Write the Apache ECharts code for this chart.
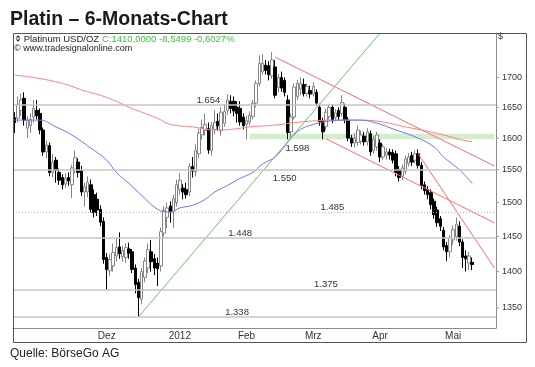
<!DOCTYPE html>
<html><head><meta charset="utf-8">
<script src="https://cdn.jsdelivr.net/npm/echarts@6/dist/echarts.min.js"></script>
<style>html,body{margin:0;padding:0;background:#fff}#c{width:535px;height:367px}</style>
</head><body><div id="c"></div>
<script>
// ---------- data ----------
const categories = [];
for (let d = new Date(Date.UTC(2011, 10, 4)); categories.length < 152; d.setUTCDate(d.getUTCDate() + 1)) {
  const w = d.getUTCDay();
  if (w !== 0 && w !== 6) categories.push(d.toISOString().slice(0, 10));
}
const monthTickDates = ['2011-12-01','2012-01-02','2012-02-01','2012-03-01','2012-04-02','2012-05-01'];
const monthLabelDates = ['2011-12-15','2012-01-17','2012-02-15','2012-03-15','2012-04-13','2012-05-16'];
const monthLabelTexts = ['Dez','2012','Feb','Mrz','Apr','Mai'];

const opens = [1633,1632,1645,1665,1616,1620,1634,1645,1640,1613, 1578,1588,1546,1565,1546,1538,1528,1538,1527,1551,
  1562,1549,1516,1516,1527,1512,1505,1490,1472,1420, 1401,1408,1422,1435,1421,1420,1432,1428,1405,1385,
  1362,1392,1405,1428,1418,1412,1408,1455,1478,1495, 1487,1500,1520,1522,1520,1516,1555,1547,1575,1605,
  1612,1615,1580,1614,1627,1612,1624,1645,1660,1660, 1650,1648,1634,1622,1626,1635,1657,1690,1710,1721,
  1720,1703,1718,1683,1700,1695,1662,1610,1634,1668, 1680,1688,1673,1678,1672,1675,1650,1628,1619,1635,
  1650,1633,1645,1640,1650,1629,1600,1592,1593,1595, 1603,1594,1607,1580,1586,1592,1570,1573,1578,1577,
  1575,1550,1540,1548,1560,1572,1565,1575,1557,1527, 1520,1515,1502,1489,1476,1459,1437,1428,1445,1450,
  1465,1442,1422,1412,1413];
const closes = [1625,1655,1662,1629,1629,1630,1648,1636,1613,1578, 1589,1546,1562,1549,1534,1527,1537,1533,1553,1569,
  1546,1516,1524,1531,1490,1485,1489,1471,1417,1403, 1417,1427,1434,1425,1430,1434,1426,1403,1382,1364,
  1400,1415,1431,1414,1405,1404,1457,1488,1492,1486, 1506,1527,1534,1516,1512,1555,1548,1580,1608,1617,
  1622,1581,1620,1625,1620,1642,1643,1662,1648,1644, 1640,1626,1620,1628,1637,1657,1690,1724,1724,1712,
  1705,1730,1670,1700,1682,1675,1609,1634,1684,1690, 1690,1673,1685,1672,1685,1657,1626,1610,1642,1650,
  1629,1641,1635,1658,1629,1600,1592,1600,1613,1605, 1594,1610,1578,1598,1605,1570,1586,1578,1573,1565,
  1546,1538,1553,1567,1570,1562,1575,1557,1526,1518, 1512,1497,1482,1470,1465,1435,1428,1448,1460,1468,
  1442,1420,1418,1422,1410];
const lows = [1608,1625,1636,1620,1600,1608,1625,1630,1606,1572, 1568,1540,1538,1530,1527,1520,1522,1525,1507,1545,
  1538,1510,1494,1508,1485,1478,1480,1465,1411,1375, 1394,1400,1414,1418,1414,1412,1418,1398,1370,1338,
  1355,1385,1398,1400,1395,1380,1400,1450,1462,1470, 1462,1494,1512,1505,1506,1510,1538,1540,1568,1598,
  1604,1575,1572,1606,1612,1604,1618,1638,1640,1635, 1625,1620,1614,1598,1620,1630,1650,1685,1705,1705,
  1695,1698,1665,1675,1676,1668,1598,1598,1630,1662, 1670,1668,1668,1665,1668,1652,1620,1598,1612,1630,
  1624,1627,1628,1635,1624,1595,1586,1585,1588,1590, 1588,1588,1572,1575,1580,1562,1565,1566,1566,1560,
  1540,1532,1534,1543,1555,1556,1560,1552,1520,1512, 1505,1490,1476,1464,1458,1430,1415,1420,1438,1444,
  1436,1405,1400,1402,1402];
const highs = [1642,1668,1673,1675,1635,1640,1662,1662,1648,1617, 1596,1593,1575,1570,1552,1543,1545,1546,1558,1580,
  1568,1556,1530,1540,1535,1520,1515,1496,1478,1426, 1425,1440,1448,1456,1437,1440,1441,1432,1410,1390,
  1405,1420,1440,1445,1425,1420,1463,1495,1500,1502, 1512,1535,1545,1528,1530,1560,1570,1590,1615,1630,
  1640,1625,1626,1645,1640,1650,1655,1672,1670,1668, 1660,1660,1640,1636,1643,1662,1695,1738,1740,1730,
  1728,1744,1730,1706,1710,1700,1670,1640,1690,1696, 1700,1698,1690,1686,1692,1680,1656,1633,1648,1656,
  1655,1647,1650,1670,1656,1634,1605,1608,1620,1612, 1610,1616,1612,1604,1610,1598,1590,1584,1583,1582,
  1580,1556,1558,1572,1576,1578,1580,1582,1562,1532, 1525,1520,1506,1494,1480,1464,1442,1452,1466,1478,
  1472,1446,1430,1428,1420];

// moving averages: [index, price]
const maBlue = [[0,1629],[8,1629],[13,1618],[18,1605],[24,1584],[29,1565],[32,1546],[36,1529],[40,1511],[45,1490],
  [49,1486],[52,1492],[56,1496],[60,1505],[63,1516],[67,1526],[71,1537],[75,1546],[78,1559],[82,1570],[85,1587],
  [87,1600],[90,1614],[94,1622],[97,1626],[103,1629],[109,1629],[114,1624],[120,1613],[127,1600],[132,1586],
  [135,1570],[140,1550],[144,1529]];
const maRed = [[0,1704],[6,1700],[11,1695],[17,1687],[21,1679],[27,1670],[32,1660],[36,1650],[40,1642],[45,1632],
  [49,1622],[56,1618],[63,1613],[68,1614],[74,1618],[82,1621],[90,1626],[100,1629],[109,1629],[116,1626],
  [122,1619],[128,1613],[135,1605],[140,1598],[144,1594]];

// trend lines: [index, price] endpoints
const trendGreen = [[39,1338],[115,1777]];
const trendUpper = [[82,1735],[151,1556]];
const trendLower = [[98,1599],[151,1470]];
const trendSteep = [[127,1575],[151,1405]];

// horizontal levels
const levelLines = [1654, 1550, 1485, 1448, 1375, 1338];
const bandLow = 1598, bandHigh = 1607, bandStartIdx = 74;
const levelLabelValues = [1654, 1598, 1550, 1485, 1448, 1375, 1338];
const levelLabelIdx = [61, 89, 85, 100, 71, 98, 70];
const levelLabelBelow = [false, true, true, false, false, false, false];

const yTickValues = [1350, 1400, 1450, 1500, 1550, 1600, 1650, 1700];

// ---------- chart ----------
const FONT = "'Liberation Sans', Arial, sans-serif";
const tickIdx = monthTickDates.map(d => categories.indexOf(d));
const labelIdx = monthLabelDates.map(d => categories.indexOf(d));
const candleData = opens.map((o, i) => [o, closes[i], lows[i], highs[i]]);
const fmtLevel = v => (v / 1000).toFixed(3);

const grid = { left: 13, right: 39, top: 33, bottom: 39 };
const trendSeries = (data, color, z) => ({
  type: 'line', data, symbol: 'none', silent: true, z, clip: true,
  lineStyle: { color, width: 1 }, animation: false
});

const option = {
  animation: false,
  backgroundColor: '#fff',
  grid,
  xAxis: {
    type: 'category', data: categories, boundaryGap: true,
    axisLine: { lineStyle: { color: '#8c8c8c', width: 1 } },
    axisTick: { interval: (i) => tickIdx.includes(i), length: 3, lineStyle: { color: '#8c8c8c' } },
    axisLabel: {
      interval: (i) => labelIdx.includes(i), margin: 3,
      formatter: (v, i) => { const k = labelIdx.indexOf(i); return k >= 0 ? monthLabelTexts[k] : ''; },
      fontFamily: FONT, fontSize: 10, color: '#333'
    },
    splitLine: { show: false }
  },
  yAxis: {
    type: 'log', logBase: 10, position: 'right', min: 1323.2, max: 1777.3,
    axisLine: { show: true, lineStyle: { color: '#8c8c8c', width: 1 } },
    axisTick: { show: false }, axisLabel: { show: false }, splitLine: { show: false }
  },
  series: [
    {
      type: 'line', data: [], z: 1, silent: true,
      markArea: {
        silent: true,
        itemStyle: { color: 'rgba(175,222,165,0.55)' },
        data: [[{ xAxis: bandStartIdx, yAxis: bandLow }, { xAxis: categories.length - 1, yAxis: bandHigh }]]
      },
      markLine: {
        silent: true, symbol: 'none', label: { show: false },
        data: levelLines.map(v => ({
          yAxis: v,
          lineStyle: v === 1485 ? { color: '#b5b5b5', width: 1, type: [1, 2] } : { color: '#c4c4c4', width: 1.5, type: 'solid' }
        }))
      },
      markPoint: {
        silent: true, symbol: 'circle', symbolSize: 0,
        data: levelLabelValues.map((v, k) => ({
          coord: [levelLabelIdx[k], v], name: fmtLevel(v),
          label: { show: true, formatter: '{b}', position: levelLabelBelow[k] ? 'bottom' : 'top', distance: levelLabelBelow[k] ? 4 : 0,
            fontFamily: FONT, fontSize: 9.5, color: '#333' }
        }))
      }
    },
    {
      type: 'candlestick', data: candleData, z: 2, barWidth: 3, silent: true,
      itemStyle: { color: '#ffffff', color0: '#000000', borderColor: '#858585', borderColor0: '#000000', borderWidth: 1 }
    },
    Object.assign(trendSeries(maRed, '#ff8282', 3), { smooth: 0.4 }),
    Object.assign(trendSeries(maBlue, '#7373ff', 3), { smooth: 0.4 }),
    trendSeries(trendGreen, '#6cc06c', 4),
    trendSeries(trendUpper, '#ff6a6a', 4),
    trendSeries(trendLower, '#ff6a6a', 4),
    trendSeries(trendSteep, '#ff6a6a', 4)
  ]
};

const chart = echarts.init(document.getElementById('c'), null, { renderer: 'canvas', width: 535, height: 367 });
chart.setOption(option);

const axisX = 535 - grid.right;
const graphics = [
  { type: 'rect', shape: { x: 13.5, y: 33.5, width: 513, height: 309 }, style: { fill: 'none', stroke: '#555', lineWidth: 1 }, silent: true, z: 10 },
  { type: 'text', x: 10, y: 19.5, style: { text: 'Platin \u2013 6-Monats-Chart', font: "bold 19.5px 'Liberation Sans', Arial, sans-serif", fill: '#1a1a1a', verticalAlign: 'middle' }, z: 10 },
  { type: 'text', x: 15, y: 39, style: { text: '\u233D Platinum USD/OZ', font: "9.5px 'Liberation Sans', Arial, sans-serif", fill: '#222', verticalAlign: 'middle' }, z: 10 },
  { type: 'text', x: 102, y: 39, style: { text: 'C:1410,0000 -8,5499 -0,6027%', font: "9.5px 'Liberation Sans', Arial, sans-serif", fill: '#3cc43c', verticalAlign: 'middle' }, z: 10 },
  { type: 'text', x: 14, y: 48.5, style: { text: '\u00A9 www.tradesignalonline.com', font: "9px 'Liberation Sans', Arial, sans-serif", fill: '#222', verticalAlign: 'middle' }, z: 10 },
  { type: 'text', x: axisX + 2, y: 37, style: { text: '$', font: "9px 'Liberation Sans', Arial, sans-serif", fill: '#333', verticalAlign: 'middle' }, z: 10 },
  { type: 'text', x: 10, y: 354, style: { text: 'Quelle: B\u00F6rseGo AG', font: "12px 'Liberation Sans', Arial, sans-serif", fill: '#222', verticalAlign: 'middle' }, z: 10 }
];
yTickValues.forEach(v => {
  const py = chart.convertToPixel({ yAxisIndex: 0 }, v);
  graphics.push({ type: 'line', shape: { x1: axisX, y1: py, x2: axisX + 3, y2: py }, style: { stroke: '#999', lineWidth: 1 }, silent: true, z: 10 });
  graphics.push({ type: 'text', x: axisX + 6, y: py, style: { text: String(v), font: "9px 'Liberation Sans', Arial, sans-serif", fill: '#333', verticalAlign: 'middle' }, z: 10 });
});
chart.setOption({ graphic: graphics });
</script></body></html>
